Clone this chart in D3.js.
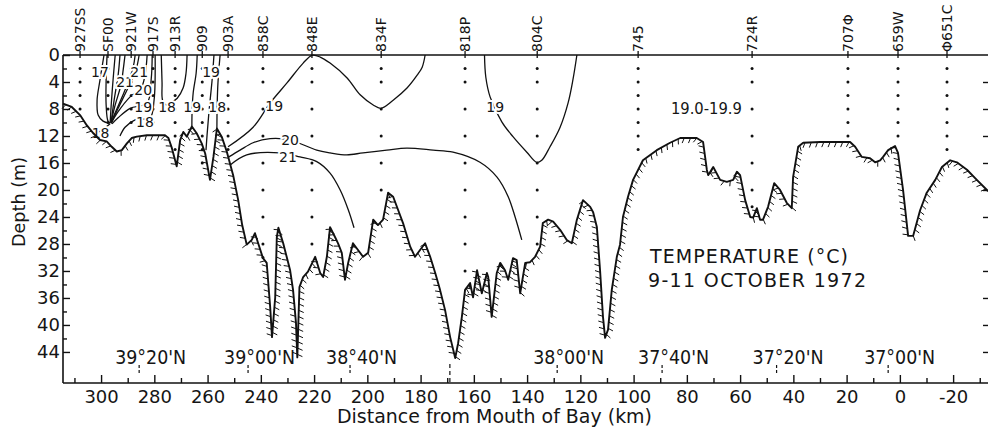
<!DOCTYPE html>
<html><head><meta charset="utf-8">
<script src="https://cdn.jsdelivr.net/npm/d3@7/dist/d3.min.js"></script>
<style>
body{margin:0;background:#fff}
svg{display:block}
text{font-family:"DejaVu Sans",sans-serif;fill:#151515}
</style>
</head><body>
<svg id="c" width="988" height="432"></svg>
<script>
// ---------------- data ----------------
const xMajorTicks = [300,280,260,240,220,200,180,160,140,120,100,80,60,40,20,0,-20];
const xMinorTicks = [310,290,270,250,230,210,190,170,150,130,110,90,70,50,30,10,-10,-30];
const yMajorTicks = [0,4,8,12,16,20,24,28,32,36,40,44];
const yMinorTicks = [2,6,10,14,18,22,26,30,34,38,42];

const stationNames = ["927SS","SF00","921W","917S","913R","909","903A","858C","848E","834F","818P","804C","745","724R","707\u03A6","659W","\u03A6651C"];
const stationKm    = [307.9,297.4,288.7,280.5,272.2,262.0,252.3,239.2,220.8,194.8,163.3,136.2,98.3,55.5,19.5,0.7,-17.7];
const stationDots  = [
  [2,4,6,8],[2,4,6,8,10],[2,4,6,8,10],[2,4,6,8,10],[2,4,6,8,10,12,14],
  [2,4,6,8,10,12,14,16],[2,4,6,8,10,12,14],[2,4,8,12,16,20,24,28,30],
  [2,4,8,12,16,20,24,28],[2,4,8,12,16,20],[2,4,8,12,16,20,24,28,32],
  [2,4,8,12,16,20,24,28],[2,4,6,8,10,12,14],[2,4,8,12,16,20,22.5],
  [2,4,6,8,10,12],[2,4,6,8,10,12],[2,4,6,8,10,12,14]
];

const latNames = ["39\u00B020'N","39\u00B000'N","38\u00B040'N","38\u00B000'N","37\u00B040'N","37\u00B020'N","37\u00B000'N"];
const latKm    = [285.7,244.8,206.5,128.7,89.3,46.3,4.4];
const latDashKm = [169];

// bottom profile [km, depth m]
const bottomProfile = [[314.3,7.2],[311.0,7.7],[307.9,8.9],[305.4,10.4],[302.9,11.6],[300.4,12.6],[297.9,12.8],[296.0,13.6],[294.1,14.3],[292.2,14.1],[290.3,13.1],[288.5,12.3],[286.6,12.1],[282.8,11.9],[278.5,11.9],[276.0,11.9],[274.7,12.3],[273.4,13.8],[271.6,16.5],[270.3,12.6],[269.1,11.4],[267.8,12.1],[265.9,10.6],[264.1,11.6],[262.2,13.1],[260.9,14.6],[259.1,18.5],[257.8,15.1],[256.5,10.9],[254.7,12.1],[252.8,14.3],[250.4,17.8],[248.5,21.5],[247.0,25.2],[245.3,28.1],[243.4,27.4],[242.2,26.4],[241.0,27.9],[239.2,30.1],[237.8,30.8],[237.3,33.3],[236.5,37.3],[235.8,41.8],[234.6,35.9],[234.0,27.0],[233.4,25.6],[231.6,27.9],[230.3,29.9],[229.0,31.9],[227.9,34.8],[226.8,39.7],[226.3,44.8],[225.5,34.4],[224.1,32.9],[222.3,32.1],[219.6,29.9],[217.7,32.3],[216.6,32.9],[215.2,29.9],[214.0,25.5],[212.1,27.0],[211.0,27.9],[209.6,29.3],[208.4,33.3],[207.2,30.8],[205.4,27.9],[203.5,28.9],[201.6,29.9],[199.7,29.3],[197.8,24.4],[196.0,25.2],[194.1,24.4],[192.2,20.4],[190.3,21.0],[188.4,23.0],[186.6,24.9],[183.9,28.4],[182.1,29.9],[180.2,28.9],[178.3,27.9],[176.4,29.9],[174.5,32.3],[172.7,34.8],[170.8,37.8],[168.9,41.8],[167.0,44.9],[165.9,42.7],[164.5,38.8],[163.3,34.8],[161.4,33.8],[160.3,35.9],[158.8,31.9],[157.0,35.3],[155.1,32.3],[154.6,32.9],[153.3,38.8],[151.4,32.3],[150.1,30.8],[148.3,31.9],[147.1,33.3],[145.3,30.1],[143.9,30.4],[142.6,35.3],[140.7,30.8],[138.9,30.7],[137.0,29.9],[135.1,28.4],[134.1,24.9],[132.1,24.4],[130.2,24.7],[127.6,25.9],[125.1,27.4],[123.2,27.9],[121.3,24.4],[119.0,21.5],[116.3,22.5],[115.2,23.3],[113.8,25.5],[112.6,31.9],[111.5,38.8],[110.7,41.9],[109.6,40.7],[108.2,34.8],[106.3,29.9],[105.1,28.1],[104.0,24.0],[102.1,21.0],[100.2,18.5],[96.5,15.6],[91.3,14.1],[86.3,13.0],[82.5,12.3],[76.3,12.3],[73.9,12.9],[72.5,17.0],[72.0,17.8],[70.1,16.6],[67.5,18.5],[65.0,18.8],[62.6,18.5],[61.2,17.3],[60.0,17.8],[58.1,21.5],[56.2,24.0],[55.1,24.1],[53.7,22.7],[52.5,24.4],[51.4,24.4],[49.5,22.5],[47.2,19.0],[45.0,20.0],[42.5,21.9],[40.6,22.7],[40.1,18.1],[38.2,13.6],[36.3,13.0],[29.9,12.9],[18.7,12.9],[16.8,13.6],[14.3,15.1],[11.2,15.3],[9.3,15.9],[7.4,15.6],[6.3,15.1],[4.4,14.1],[1.8,13.5],[0.7,14.5],[-1.2,20.0],[-3.1,26.8],[-5.0,26.8],[-7.6,23.0],[-10.1,20.4],[-13.3,18.5],[-15.8,16.6],[-18.9,15.6],[-21.4,15.9],[-25.2,17.0],[-28.9,18.5],[-32.7,20.0],[-33.1,20.2]];

// isotherms near the head of the bay
const leftIsotherms = [
  [[298.9,0],[300.4,3.7],[301.5,6.7],[301.1,8.9],[299.25,9.8],[297.0,10.1]],
  [[297.75,0],[298.1,3.7],[298.1,7.4],[297.4,9.8],[296.6,10.1]],
  [[294.7,0],[295.5,3.7],[296.2,7.4],[296.6,10.1]],
  [[292.9,0],[293.6,3.0],[295.1,6.7],[296.2,9.9]],
  [[291.0,0],[291.7,2.2],[292.5,4.4],[294.7,7.4],[296.2,9.9]],
  [[287.2,0],[288.0,1.9],[291.0,5.2],[295.5,9.3],[296.2,10.1]],
  [[285.7,0],[286.9,2.2],[289.9,4.9],[293.6,7.9],[296.2,10.1]],
  [[282.7,0],[283.5,3.0],[285.0,4.9],[289.1,6.2],[293.6,8.4],[296.2,10.1]],
  [[280.8,0],[281.2,3.7],[282.7,7.1],[289.1,7.9],[293.6,9.3],[295.9,10.2]],
  [[279.7,0],[280.1,6.7],[281.6,9.3],[287.2,9.6],[291.0,10.7],[292.9,12.0]],
  [[296.6,10.2],[299.25,11.0],[302.25,11.7]],
  [[277.4,0],[277.1,4.1],[276.9,6.7],[275.6,7.4],[274.1,7.1],[271.4,6.4],[269.2,4.9],[268.1,2.7],[267.7,0]],
  [[263.9,0],[264.3,2.7],[265.4,5.6],[265.8,8.1],[265.9,10.6]],
  [[257.6,0],[258.3,3.7],[259.4,8.1],[260.2,11.9],[260.6,14.1]],
  [[255.3,0],[256.1,4.1],[256.4,7.4],[256.5,10.8]]
];
const iso19a = [[252.3,13.6],[242.9,10.7],[236.5,7.1],[230.1,4.1],[224.1,1.2],[220.75,0.05],[217.7,0.3],[214.0,1.2],[207.6,3.4],[202.7,5.9],[197.8,7.4],[194.95,7.9],[190.3,6.7],[185.1,4.9],[181.3,3.0],[179.4,1.8],[178.3,0]];
const iso19b = [[156.0,0],[155.5,3.3],[153.9,6.2],[149.5,9.9],[145.3,12.1],[140.1,14.4],[136.4,15.9],[134.5,15.6],[131.4,13.6],[127.6,10.7],[124.6,7.1],[122.8,3.7],[121.3,0]];
const iso20 = [[252.0,15.1],[247.8,14.1],[242.9,13.0],[236.5,12.4],[229.0,12.6],[219.0,14.1],[214.0,14.5],[207.7,14.8],[201.6,14.5],[192.7,14.1],[185.2,13.8],[175.3,14.1],[167.8,14.4],[157.7,15.9],[151.3,18.1],[147.1,21.0],[144.5,24.0],[142.0,27.4]];
const iso21 = [[251.5,16.3],[245.3,14.8],[232.8,14.5],[225.3,15.1],[219.0,15.8],[214.0,17.5],[210.2,20.0],[207.1,23.0],[205.0,25.6]];

const contourLabelText = ["17","18","21","21","20","19","18","18","19","19","18","19","20","21","19"];
const contourLabelKm   = [300.4,300.2,291.0,285.7,284.2,284.2,283.5,275.2,265.8,258.7,256.4,235.0,229.0,229.8,152.0];
const contourLabelDep  = [2.5,11.5,4.0,2.5,5.2,7.7,9.9,7.7,7.7,2.5,7.7,7.6,12.6,15.1,7.7];

// ---------------- drawing ----------------
const svg = d3.select("#c");
const x = d3.scaleLinear().domain([314.3,-33.1]).range([63,988]);
const y = d3.scaleLinear().domain([0,48.6]).range([55,383]);
const X0 = x(314.3), X1 = x(-33.1), Y0 = y(0), Y1 = y(48.6);

const line = d3.line().x(d=>x(d[0])).y(d=>y(d[1]));
const smooth = d3.line().x(d=>x(d[0])).y(d=>y(d[1])).curve(d3.curveCatmullRom.alpha(0.5));

// station dots
stationKm.forEach((k,i)=>{
  svg.append("g").selectAll("circle").data(stationDots[i]).join("circle")
    .attr("cx",x(k)).attr("cy",d=>y(d)).attr("r",1.5).attr("fill","#111");
});

// isotherms
const isoG = svg.append("g").attr("fill","none").attr("stroke","#111").attr("stroke-width",1.3);
leftIsotherms.forEach(l=>isoG.append("path").attr("d",smooth(l)));
[iso19a,iso19b,iso20,iso21].forEach(l=>isoG.append("path").attr("d",smooth(l)));

// contour labels
contourLabelText.forEach((t,i)=>{
  svg.append("text").attr("x",x(contourLabelKm[i])).attr("y",y(contourLabelDep[i])).attr("dy","0.36em")
    .attr("text-anchor","middle").attr("font-size",14)
    .attr("stroke","#fff").attr("stroke-width",4).attr("paint-order","stroke").text(t);
});
svg.append("text").attr("x",x(86.0)).attr("y",y(7.9)).attr("dy","0.36em").attr("font-size",15)
  .attr("textLength",71).attr("lengthAdjust","spacingAndGlyphs").text("19.0-19.9");

// bottom profile with hatching
const bp = svg.append("path").attr("d",line(bottomProfile)).attr("fill","none")
  .attr("stroke","#111").attr("stroke-width",1.9).attr("stroke-linejoin","round");
const node = bp.node(), L = node.getTotalLength();
const hatch = [];
for(let s=3;s<L-1;s+=6.3){
  const p=node.getPointAtLength(s), a=node.getPointAtLength(Math.max(0,s-1.5)), b=node.getPointAtLength(Math.min(L,s+1.5));
  let dx=b.x-a.x, dy=b.y-a.y; const n=Math.hypot(dx,dy)||1; dx/=n; dy/=n;
  const nx=-dy, ny=dx; // underside normal
  const hx=nx*0.92-dx*0.38, hy=ny*0.92-dy*0.38;
  hatch.push(`M${p.x},${p.y}l${(hx*5.5).toFixed(2)},${(hy*5.5).toFixed(2)}`);
}
svg.append("path").attr("d",hatch.join("")).attr("stroke","#111").attr("stroke-width",1).attr("fill","none");

// frame lines
const fr = svg.append("g").attr("stroke","#111").attr("stroke-width",1.6);
fr.append("line").attr("x1",X0).attr("x2",X1).attr("y1",Y0).attr("y2",Y0);
fr.append("line").attr("x1",X0).attr("x2",X0).attr("y1",Y0).attr("y2",Y1);
fr.append("line").attr("x1",X0).attr("x2",X1).attr("y1",Y1).attr("y2",Y1);

// station ticks and labels
stationKm.forEach((k,i)=>{
  svg.append("line").attr("x1",x(k)).attr("x2",x(k)).attr("y1",Y0-4).attr("y2",Y0+3).attr("stroke","#111").attr("stroke-width",1.3);
  svg.append("text").attr("transform",`translate(${x(k)+5},${Y0-3}) rotate(-90)`)
    .attr("font-size",14).text(stationNames[i]);
});

// axes
const xa = svg.append("g").attr("transform",`translate(0,${Y1})`)
  .call(d3.axisBottom(x).tickValues(xMajorTicks).tickSizeInner(-8).tickSizeOuter(0).tickPadding(7).tickFormat(d=>d));
const xm = svg.append("g").attr("transform",`translate(0,${Y1})`)
  .call(d3.axisBottom(x).tickValues(xMinorTicks).tickSizeInner(-5).tickSizeOuter(0).tickFormat(""));
const ya = svg.append("g").attr("transform",`translate(${X0},0)`)
  .call(d3.axisLeft(y).tickValues(yMajorTicks).tickSizeInner(-7).tickSizeOuter(0).tickPadding(3).tickFormat(d=>d));
const ym = svg.append("g").attr("transform",`translate(${X0},0)`)
  .call(d3.axisLeft(y).tickValues(yMinorTicks).tickSizeInner(-4).tickSizeOuter(0).tickFormat(""));
const yr = svg.append("g").attr("transform",`translate(${X1},0)`)
  .call(d3.axisRight(y).tickValues(yMajorTicks.slice(1)).tickSizeInner(-5).tickSizeOuter(0).tickFormat(""));
[xa,xm,ya,ym,yr].forEach(g=>{
  g.select(".domain").remove();
  g.selectAll("line").attr("stroke","#111").attr("stroke-width",1.4);
  g.selectAll("text").attr("font-family","DejaVu Sans").attr("font-size",18).attr("fill","#151515");
});

// latitude labels
latKm.forEach((k,i)=>{
  svg.append("line").attr("x1",x(k)).attr("x2",x(k)).attr("y1",365).attr("y2",373)
    .attr("stroke","#111").attr("stroke-width",1.2).attr("stroke-dasharray","3,2");
  svg.append("text").attr("x",x(k)-24).attr("y",364).attr("font-size",19)
    .attr("textLength",71).attr("lengthAdjust","spacingAndGlyphs").text(latNames[i]);
});
latDashKm.forEach(k=>{
  svg.append("line").attr("x1",x(k)).attr("x2",x(k)).attr("y1",364).attr("y2",Y1)
    .attr("stroke","#111").attr("stroke-width",1.2).attr("stroke-dasharray","4,3");
});

// titles
svg.append("text").attr("x",337).attr("y",423).attr("font-size",19)
  .attr("textLength",315).attr("lengthAdjust","spacingAndGlyphs").text("Distance from Mouth of Bay (km)");
svg.append("text").attr("transform","translate(25,247) rotate(-90)").attr("font-size",18)
  .attr("textLength",90).attr("lengthAdjust","spacingAndGlyphs").text("Depth (m)");
svg.append("text").attr("x",650).attr("y",263).attr("font-size",19)
  .attr("textLength",198).attr("lengthAdjust","spacing").text("TEMPERATURE (\u00B0C)");
svg.append("text").attr("x",648).attr("y",287).attr("font-size",19)
  .attr("textLength",218).attr("lengthAdjust","spacing").text("9-11 OCTOBER 1972");
</script>
</body></html>
